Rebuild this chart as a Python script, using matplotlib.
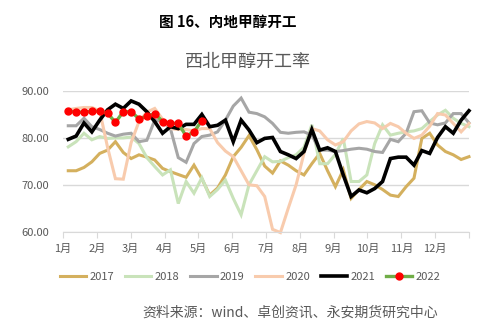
import numpy as np
import matplotlib
matplotlib.use("Agg")
import matplotlib.pyplot as plt

plt.rcParams['font.family'] = ['Noto Sans CJK SC', 'DejaVu Sans']

# weekly operating rate, NW methanol (%)
months = ['1月', '2月', '3月', '4月', '5月', '6月', '7月', '8月', '9月', '10月', '11月', '12月']

y2017 = [73.0, 73.0, 73.7, 74.9, 76.7, 77.4, 79.2, 76.9, 75.6, 76.4,
         75.9, 75.3, 73.5, 72.8, 72.2, 71.6, 74.2, 71.3, 67.8, 69.3,
         72.1, 76.0, 78.0, 80.5, 77.5, 74.0, 72.5, 75.1, 74.2, 73.0,
         72.1, 74.5, 76.7, 73.0, 69.6, 73.2, 67.1, 69.0, 70.7, 70.0,
         69.0, 67.8, 67.5, 69.6, 71.4, 79.9, 81.0, 78.5, 77.1, 76.4,
         75.4, 76.0]
y2018 = [78.1, 79.2, 81.0, 79.6, 80.3, 79.9, 80.0, 80.0, 80.2, 78.8,
         75.8, 73.9, 72.1, 73.2, 66.0, 70.7, 68.2, 71.5, 67.5, 69.0,
         71.0, 67.1, 63.6, 70.0, 73.0, 76.0, 74.9, 75.0, 75.8, 76.4,
         78.0, 82.8, 74.5, 74.5, 76.5, 79.9, 70.7, 70.7, 72.1, 78.8,
         82.8, 80.6, 81.0, 81.3, 81.5, 82.0, 83.5, 84.9, 85.9, 84.2,
         83.1, 82.4]
y2019 = [82.6, 82.6, 84.2, 82.4, 81.8, 81.0, 80.4, 80.8, 81.0, 79.2,
         79.5, 83.8, 83.5, 82.0, 75.8, 74.8, 78.8, 80.3, 80.6, 81.3,
         83.8, 86.8, 88.5, 85.5, 85.2, 84.5, 83.1, 81.2, 81.0, 81.2,
         81.3, 80.6, 77.4, 77.4, 77.1, 77.3, 77.6, 77.8, 77.6, 77.1,
         76.9, 79.7, 79.2, 81.0, 85.6, 85.8, 83.2, 82.8, 83.2, 85.2,
         85.2, 83.2]
y2020 = [86.0, 86.3, 86.5, 86.5, 85.8, 78.0, 71.3, 71.2, 79.0, 83.5,
         85.5, 86.3, 84.0, 82.0, 81.8, 81.8, 81.5, 82.0, 82.0, 79.0,
         77.2, 76.0, 73.0, 70.0, 69.8, 67.5, 60.5, 59.8, 65.0, 70.0,
         76.7, 82.0, 81.5, 79.6, 78.5, 79.2, 81.5, 83.0, 83.5, 83.2,
         82.0, 83.1, 82.4, 81.0, 79.9, 80.6, 82.5, 85.2, 84.9, 83.1,
         81.3, 83.1]
y2021 = [79.7, 80.4, 83.2, 81.3, 83.8, 86.0, 87.2, 86.3, 87.9, 87.2,
         85.6, 83.5, 81.0, 82.4, 82.0, 82.9, 82.9, 85.0, 82.4, 82.7,
         83.8, 79.2, 83.8, 81.7, 79.0, 79.9, 80.1, 77.1, 76.4, 75.6,
         77.1, 81.8, 77.4, 77.9, 77.1, 72.1, 67.5, 68.9, 68.3, 69.2,
         70.7, 75.6, 75.9, 75.9, 74.2, 77.3, 76.7, 80.1, 82.4, 81.0,
         83.8, 85.8]
y2022 = [85.7, 85.5, 85.5, 85.7, 85.7, 85.3, 83.3, 85.6, 85.6, 84.1,
         84.6, 85.2, 83.5, 83.1, 83.1, 80.4, 81.3, 83.7]

fig = plt.figure(figsize=(4.81, 3.30), dpi=100)
ax = fig.add_axes([0.131, 0.298, 0.844, 0.426])

styles = [
    ('2017', y2017, '#D4B05E', 2.2),
    ('2018', y2018, '#C9E3BA', 2.2),
    ('2019', y2019, '#A6A6A6', 2.2),
    ('2020', y2020, '#F8CBAD', 2.2),
    ('2021', y2021, '#000000', 2.6),
]
for name, ys, col, lw in styles:
    ax.plot(np.arange(len(ys)), ys, color=col, lw=lw, label=name,
            clip_on=False, solid_joinstyle='miter')
ax.plot(np.arange(len(y2022)), y2022, color='#70AD47', lw=2.4, marker='o',
        ms=5, mfc='#FF0000', mec='#FF0000', label='2022', clip_on=False)

ax.set_ylim(60, 90)
ax.set_yticks([60, 70, 80, 90])
ax.set_yticklabels(['60.00', '70.00', '80.00', '90.00'])
ax.set_xlim(-0.67, 51.0)
edges = np.linspace(-0.67, 51.0, 13)
ax.set_xticks(edges)
ax.set_xticklabels(months + [''])

ax.grid(axis='y', color='#D9D9D9', lw=1)
ax.set_axisbelow(True)
for s in ['left', 'right', 'top']:
    ax.spines[s].set_visible(False)
ax.spines['bottom'].set_color('#D9D9D9')
ax.tick_params(axis='y', length=0, pad=10, labelsize=8, labelcolor='#595959')
ax.tick_params(axis='x', length=4, color='#D9D9D9', pad=5, labelsize=8,
               labelcolor='#595959')

fig.text(0.474, 0.933, '图 16、内地甲醇开工', ha='center', va='center',
         fontsize=10.5, fontweight='bold', color='black')
fig.text(0.516, 0.812, '西北甲醇开工率', ha='center', va='center',
         fontsize=13, color='#595959')

fig.legend(loc='center', bbox_to_anchor=(0.52, 0.161), ncol=6, frameon=False,
           fontsize=8, handlelength=2.4, handletextpad=0.3,
           columnspacing=0.95, numpoints=1, labelcolor='#595959')

fig.text(0.603, 0.052, '资料来源：wind、卓创资讯、永安期货研究中心', ha='center',
         va='center', fontsize=10, color='#595959')

fig.savefig('out.png', dpi=100)
